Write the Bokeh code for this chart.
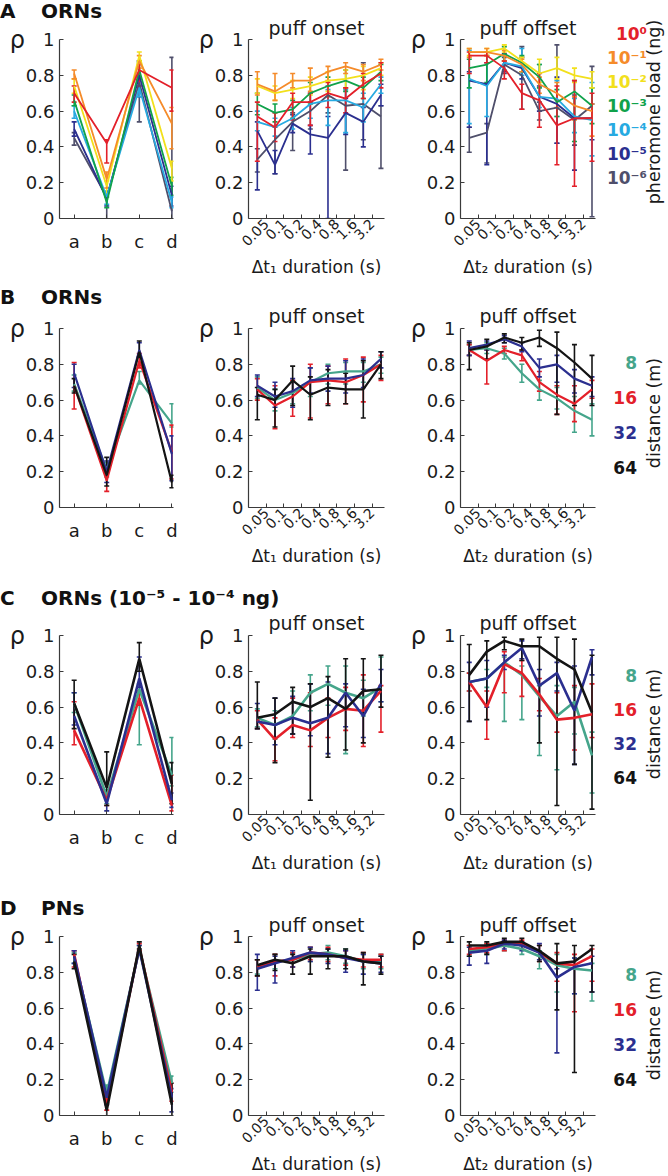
import math
from bokeh.plotting import figure
from bokeh.models import ColumnDataSource, Whisker, TeeHead, FixedTicker, Div, Range1d
from bokeh.layouts import column, row
from bokeh.embed import file_html
from bokeh.resources import INLINE

FONT = "DejaVu Sans"
INK = "#1a1a1a"
AXIS = "#3a3a3a"

# ---------------- labels / categories ----------------
CATS = ["a", "b", "c", "d"]
DUR_TICKS = ["0.05", "0.1", "0.2", "0.4", "0.8", "1.6", "3.2"]
Y_TICKS = [0, 0.2, 0.4, 0.6, 0.8, 1]
Y_LABELS = ["0", "0.2", "0.4", "0.6", "0.8", "1"]
LOADS = ["10\u2070", "10\u207b\u00b9", "10\u207b\u00b2", "10\u207b\u00b3", "10\u207b\u2074", "10\u207b\u2075", "10\u207b\u2076"]
LOAD_COLORS = ["#e3202a", "#f58b2a", "#f2e01c", "#10a24b", "#27aae1", "#2b2f8f", "#4f4f6b"]
DISTS = ["8", "16", "32", "64"]
DIST_COLORS = ["#45a58b", "#e3202a", "#2b2f8f", "#141414"]
HEADERS = [("A", "ORNs"), ("B", "ORNs"), ("C", "ORNs (10\u207b\u2075 - 10\u207b\u2074 ng)"), ("D", "PNs")]

# ---------------- row A: pheromone load (series order 10^0 ... 10^-6) ----------------
A_cat_mean = [[0.70, 0.42, 0.83, 0.73], [0.81, 0.22, 0.88, 0.53], [0.74, 0.18, 0.91, 0.28],
              [0.66, 0.09, 0.83, 0.18], [0.60, 0.12, 0.73, 0.09], [0.50, 0.11, 0.80, 0.13],
              [0.45, 0.12, 0.76, 0.04]]
A_cat_dn = [[0.05, 0.11, 0.09, 0.13], [0.03, 0.05, 0.04, 0.14], [0.04, 0.04, 0.03, 0.07],
            [0.03, 0.03, 0.04, 0.05], [0.04, 0.04, 0.05, 0.03], [0.04, 0.04, 0.12, 0.06],
            [0.04, 0.13, 0.22, 0.05]]
A_cat_up = [[0.04, 0.02, 0.03, 0.10], [0.02, 0.04, 0.03, 0.09], [0.04, 0.03, 0.02, 0.04],
            [0.03, 0.03, 0.04, 0.05], [0.03, 0.03, 0.05, 0.03], [0.04, 0.04, 0.08, 0.05],
            [0.03, 0.03, 0.12, 0.86]]

A_on_mean = [[0.57, 0.51, 0.65, 0.65, 0.70, 0.67, 0.75, 0.81],
             [0.75, 0.71, 0.77, 0.77, 0.82, 0.85, 0.82, 0.86],
             [0.74, 0.70, 0.72, 0.74, 0.77, 0.78, 0.80, 0.84],
             [0.64, 0.59, 0.61, 0.70, 0.74, 0.77, 0.73, 0.82],
             [0.54, 0.51, 0.56, 0.64, 0.66, 0.66, 0.62, 0.75],
             [0.49, 0.30, 0.53, 0.47, 0.45, 0.59, 0.54, 0.69],
             [0.33, 0.44, 0.54, 0.60, 0.69, 0.63, 0.64, 0.57]]
A_on_dn = [[0.25, 0.08, 0.10, 0.13, 0.08, 0.08, 0.08, 0.08],
           [0.06, 0.05, 0.04, 0.06, 0.05, 0.04, 0.05, 0.03],
           [0.04, 0.04, 0.05, 0.05, 0.06, 0.05, 0.08, 0.04],
           [0.06, 0.05, 0.05, 0.06, 0.06, 0.06, 0.06, 0.05],
           [0.05, 0.05, 0.06, 0.08, 0.14, 0.18, 0.08, 0.05],
           [0.33, 0.05, 0.05, 0.11, 0.45, 0.12, 0.14, 0.06],
           [0.07, 0.19, 0.16, 0.10, 0.10, 0.36, 0.20, 0.29]]
A_on_up = [[0.08, 0.08, 0.05, 0.05, 0.06, 0.06, 0.06, 0.06],
           [0.07, 0.10, 0.04, 0.07, 0.03, 0.02, 0.04, 0.03],
           [0.04, 0.04, 0.05, 0.05, 0.05, 0.05, 0.05, 0.03],
           [0.06, 0.05, 0.05, 0.06, 0.05, 0.06, 0.06, 0.04],
           [0.06, 0.05, 0.06, 0.06, 0.06, 0.06, 0.08, 0.04],
           [0.05, 0.08, 0.05, 0.05, 0.12, 0.08, 0.08, 0.06],
           [0.06, 0.07, 0.05, 0.05, 0.05, 0.10, 0.23, 0.06]]

A_off_mean = [[0.91, 0.91, 0.84, 0.70, 0.66, 0.52, 0.56, 0.56],
              [0.93, 0.93, 0.91, 0.86, 0.75, 0.70, 0.63, 0.60],
              [0.93, 0.93, 0.95, 0.88, 0.81, 0.84, 0.80, 0.78],
              [0.84, 0.86, 0.92, 0.87, 0.79, 0.65, 0.71, 0.63],
              [0.78, 0.74, 0.87, 0.85, 0.68, 0.67, 0.57, 0.55],
              [0.77, 0.75, 0.87, 0.84, 0.68, 0.64, 0.56, 0.56],
              [0.45, 0.48, 0.86, 0.80, 0.60, 0.62, 0.55, 0.63]]
A_off_dn = [[0.10, 0.04, 0.06, 0.09, 0.15, 0.22, 0.38, 0.24],
            [0.03, 0.02, 0.03, 0.04, 0.05, 0.08, 0.08, 0.14],
            [0.02, 0.02, 0.02, 0.03, 0.05, 0.06, 0.04, 0.05],
            [0.11, 0.10, 0.04, 0.05, 0.06, 0.08, 0.28, 0.10],
            [0.25, 0.17, 0.04, 0.05, 0.06, 0.10, 0.09, 0.20],
            [0.26, 0.45, 0.05, 0.06, 0.08, 0.22, 0.29, 0.12],
            [0.08, 0.17, 0.05, 0.19, 0.05, 0.20, 0.14, 0.62]]
A_off_up = [[0.02, 0.02, 0.04, 0.05, 0.15, 0.22, 0.21, 0.14],
            [0.02, 0.02, 0.03, 0.03, 0.04, 0.06, 0.05, 0.04],
            [0.02, 0.02, 0.02, 0.02, 0.08, 0.06, 0.04, 0.04],
            [0.05, 0.05, 0.04, 0.04, 0.07, 0.07, 0.06, 0.10],
            [0.16, 0.19, 0.04, 0.10, 0.18, 0.10, 0.10, 0.21],
            [0.05, 0.12, 0.05, 0.06, 0.06, 0.15, 0.12, 0.08],
            [0.06, 0.05, 0.04, 0.16, 0.05, 0.35, 0.14, 0.22]]

# ---------------- row B: distance (series order 8, 16, 32, 64 m) ----------------
B_cat_mean = [[0.69, 0.21, 0.71, 0.47], [0.68, 0.15, 0.82, 0.31], [0.75, 0.20, 0.88, 0.30], [0.68, 0.18, 0.87, 0.14]]
B_cat_dn = [[0.04, 0.04, 0.02, 0.02], [0.13, 0.06, 0.04, 0.15], [0.08, 0.06, 0.04, 0.15], [0.04, 0.06, 0.03, 0.03]]
B_cat_up = [[0.05, 0.04, 0.05, 0.11], [0.13, 0.05, 0.04, 0.15], [0.05, 0.06, 0.04, 0.10], [0.04, 0.10, 0.06, 0.04]]

B_on_mean = [[0.67, 0.60, 0.64, 0.70, 0.75, 0.76, 0.76, 0.80],
             [0.66, 0.57, 0.62, 0.70, 0.71, 0.70, 0.74, 0.80],
             [0.68, 0.62, 0.65, 0.71, 0.72, 0.72, 0.74, 0.83],
             [0.63, 0.60, 0.71, 0.63, 0.67, 0.66, 0.66, 0.80]]
B_on_dn = [[0.06, 0.06, 0.06, 0.08, 0.06, 0.07, 0.06, 0.05],
           [0.06, 0.13, 0.11, 0.20, 0.13, 0.12, 0.15, 0.09],
           [0.06, 0.06, 0.09, 0.07, 0.07, 0.08, 0.07, 0.05],
           [0.14, 0.15, 0.14, 0.14, 0.10, 0.08, 0.16, 0.08]]
B_on_up = [[0.06, 0.06, 0.06, 0.08, 0.05, 0.05, 0.05, 0.04],
           [0.06, 0.11, 0.09, 0.10, 0.08, 0.13, 0.10, 0.05],
           [0.06, 0.08, 0.07, 0.07, 0.07, 0.10, 0.09, 0.04],
           [0.04, 0.06, 0.08, 0.10, 0.10, 0.09, 0.16, 0.07]]

B_off_mean = [[0.88, 0.89, 0.86, 0.75, 0.66, 0.61, 0.54, 0.49],
              [0.88, 0.82, 0.88, 0.85, 0.70, 0.63, 0.58, 0.66],
              [0.89, 0.91, 0.94, 0.90, 0.78, 0.80, 0.72, 0.68],
              [0.88, 0.90, 0.95, 0.92, 0.95, 0.89, 0.81, 0.72]]
B_off_dn = [[0.03, 0.03, 0.03, 0.05, 0.06, 0.06, 0.12, 0.09],
            [0.03, 0.13, 0.02, 0.03, 0.05, 0.11, 0.10, 0.05],
            [0.04, 0.03, 0.02, 0.03, 0.05, 0.10, 0.08, 0.06],
            [0.11, 0.07, 0.03, 0.04, 0.05, 0.37, 0.24, 0.15]]
B_off_up = [[0.03, 0.03, 0.03, 0.05, 0.05, 0.06, 0.08, 0.09],
            [0.03, 0.06, 0.02, 0.03, 0.06, 0.05, 0.10, 0.05],
            [0.04, 0.02, 0.02, 0.02, 0.05, 0.05, 0.05, 0.05],
            [0.04, 0.04, 0.02, 0.03, 0.04, 0.09, 0.10, 0.13]]

# ---------------- row C: distance, low loads ----------------
C_cat_mean = [[0.62, 0.10, 0.70, 0.22], [0.47, 0.08, 0.65, 0.05], [0.55, 0.06, 0.76, 0.08], [0.62, 0.15, 0.87, 0.17]]
C_cat_dn = [[0.05, 0.04, 0.31, 0.06], [0.08, 0.03, 0.04, 0.03], [0.05, 0.04, 0.05, 0.04], [0.14, 0.10, 0.07, 0.11]]
C_cat_up = [[0.06, 0.04, 0.03, 0.21], [0.16, 0.03, 0.04, 0.17], [0.13, 0.04, 0.12, 0.04], [0.13, 0.20, 0.09, 0.12]]

C_on_mean = [[0.54, 0.50, 0.55, 0.68, 0.73, 0.68, 0.65, 0.71],
             [0.53, 0.42, 0.50, 0.47, 0.54, 0.59, 0.58, 0.69],
             [0.52, 0.50, 0.54, 0.51, 0.54, 0.68, 0.55, 0.73],
             [0.54, 0.56, 0.63, 0.60, 0.65, 0.59, 0.69, 0.70]]
C_on_dn = [[0.05, 0.08, 0.10, 0.10, 0.12, 0.34, 0.10, 0.08],
           [0.05, 0.12, 0.07, 0.09, 0.11, 0.12, 0.20, 0.23],
           [0.04, 0.11, 0.09, 0.07, 0.20, 0.19, 0.12, 0.10],
           [0.06, 0.27, 0.18, 0.52, 0.33, 0.23, 0.29, 0.10]]
C_on_up = [[0.05, 0.08, 0.14, 0.10, 0.10, 0.15, 0.10, 0.17],
           [0.05, 0.12, 0.15, 0.21, 0.11, 0.12, 0.20, 0.03],
           [0.10, 0.15, 0.12, 0.22, 0.20, 0.05, 0.15, 0.08],
           [0.20, 0.09, 0.08, 0.13, 0.12, 0.28, 0.18, 0.19]]

C_off_mean = [[0.74, 0.76, 0.85, 0.78, 0.66, 0.55, 0.63, 0.33],
              [0.74, 0.60, 0.84, 0.79, 0.67, 0.53, 0.54, 0.56],
              [0.74, 0.76, 0.85, 0.93, 0.72, 0.79, 0.58, 0.88],
              [0.78, 0.91, 0.97, 0.94, 0.94, 0.87, 0.81, 0.57]]
C_off_dn = [[0.05, 0.05, 0.33, 0.25, 0.33, 0.30, 0.18, 0.21],
            [0.05, 0.18, 0.16, 0.13, 0.09, 0.07, 0.18, 0.13],
            [0.22, 0.16, 0.04, 0.06, 0.17, 0.10, 0.30, 0.10],
            [0.26, 0.38, 0.05, 0.08, 0.54, 0.82, 0.53, 0.54]]
C_off_up = [[0.05, 0.05, 0.03, 0.05, 0.06, 0.17, 0.08, 0.13],
            [0.05, 0.09, 0.07, 0.07, 0.09, 0.15, 0.18, 0.17],
            [0.11, 0.10, 0.04, 0.04, 0.09, 0.06, 0.25, 0.04],
            [0.17, 0.06, 0.02, 0.04, 0.05, 0.12, 0.17, 0.32]]

# ---------------- row D: PNs ----------------
D_cat_mean = [[0.88, 0.12, 0.93, 0.18], [0.90, 0.06, 0.94, 0.13], [0.89, 0.10, 0.93, 0.10], [0.86, 0.03, 0.95, 0.06]]
D_cat_dn = [[0.03, 0.03, 0.02, 0.05], [0.07, 0.03, 0.02, 0.05], [0.04, 0.04, 0.02, 0.08], [0.04, 0.10, 0.02, 0.08]]
D_cat_up = [[0.03, 0.05, 0.02, 0.04], [0.02, 0.03, 0.02, 0.05], [0.03, 0.04, 0.02, 0.05], [0.04, 0.04, 0.02, 0.12]]

D_on_mean = [[0.83, 0.86, 0.87, 0.90, 0.91, 0.89, 0.86, 0.86],
             [0.83, 0.86, 0.87, 0.91, 0.90, 0.88, 0.87, 0.87],
             [0.82, 0.85, 0.88, 0.91, 0.90, 0.88, 0.86, 0.85],
             [0.84, 0.87, 0.85, 0.89, 0.89, 0.89, 0.86, 0.85]]
D_on_dn = [[0.04, 0.04, 0.04, 0.04, 0.04, 0.04, 0.04, 0.04],
           [0.05, 0.08, 0.04, 0.04, 0.04, 0.04, 0.04, 0.04],
           [0.12, 0.11, 0.05, 0.05, 0.05, 0.08, 0.07, 0.05],
           [0.06, 0.06, 0.06, 0.10, 0.07, 0.07, 0.13, 0.06]]
D_on_up = [[0.04, 0.04, 0.04, 0.04, 0.04, 0.04, 0.04, 0.04],
           [0.04, 0.04, 0.04, 0.03, 0.04, 0.04, 0.04, 0.03],
           [0.08, 0.04, 0.04, 0.03, 0.03, 0.04, 0.04, 0.04],
           [0.03, 0.03, 0.05, 0.04, 0.04, 0.04, 0.05, 0.04]]

D_off_mean = [[0.92, 0.93, 0.95, 0.93, 0.89, 0.84, 0.82, 0.81],
              [0.93, 0.94, 0.96, 0.96, 0.91, 0.85, 0.84, 0.89],
              [0.91, 0.92, 0.96, 0.95, 0.91, 0.77, 0.83, 0.85],
              [0.95, 0.95, 0.97, 0.97, 0.92, 0.85, 0.86, 0.93]]
D_off_dn = [[0.03, 0.03, 0.03, 0.03, 0.07, 0.15, 0.14, 0.17],
            [0.03, 0.03, 0.04, 0.03, 0.05, 0.10, 0.26, 0.14],
            [0.07, 0.07, 0.03, 0.03, 0.04, 0.42, 0.15, 0.16],
            [0.06, 0.05, 0.02, 0.02, 0.06, 0.26, 0.62, 0.24]]
D_off_up = [[0.03, 0.03, 0.02, 0.02, 0.03, 0.06, 0.06, 0.04],
            [0.02, 0.02, 0.02, 0.02, 0.04, 0.06, 0.06, 0.04],
            [0.03, 0.03, 0.02, 0.02, 0.05, 0.05, 0.05, 0.04],
            [0.02, 0.02, 0.02, 0.02, 0.03, 0.11, 0.09, 0.02]]

# ---------------- layout constants ----------------
FH = 179
ROWCFG = [
    dict(div_h=14, top=24, bot=68, tstand=1, lg_first=-4, lg_step=24, lg_mid=74, lw=1.8, lg_right=48),
    dict(div_h=14, top=27, bot=80, tstand=4, lg_first=36, lg_step=35, lg_mid=86, lw=2.2, lg_right=38),
    dict(div_h=14, top=34, bot=83, tstand=3, lg_first=41, lg_step=34, lg_mid=89, lw=2.6, lg_right=38),
    dict(div_h=14, top=24, bot=55, tstand=1, lg_first=40, lg_step=35, lg_mid=90, lw=2.6, lg_right=38),
]
LG_W = 66


def style(p):
    p.grid.visible = False
    p.outline_line_color = None
    p.border_fill_color = None
    for ax in p.axis:
        ax.axis_line_color = AXIS
        ax.axis_line_width = 1.2
        ax.major_tick_line_color = AXIS
        ax.major_tick_in = 4
        ax.major_tick_out = 0
        ax.minor_tick_line_color = None
        ax.major_label_text_font = FONT
        ax.major_label_text_color = INK
        ax.axis_label_text_font = FONT
        ax.axis_label_text_color = INK
        ax.axis_label_text_font_style = "normal"
    p.yaxis.ticker = FixedTicker(ticks=Y_TICKS)
    p.yaxis.major_label_overrides = {t: l for t, l in zip(Y_TICKS, Y_LABELS)}
    p.yaxis.major_label_text_font_size = "18px"
    p.yaxis.major_label_standoff = 5
    yax = p.yaxis[0]
    yax.axis_label = "\u03c1"
    yax.axis_label_orientation = "horizontal"
    yax.axis_label_text_font_size = "24px"
    yax.axis_label_standoff = -2
    try:
        yax.axis_label_align = "end"
    except Exception:
        pass


def panel(kind, means, dns, ups, colors, cfg, order, title=None, xlabel=None, fw=136, left=55, right=21):
    if kind == "cat":
        xs = [i + 1 for i in range(len(CATS))]
        xr = Range1d(0.55, 4.05)
    else:
        xs = list(range(len(DUR_TICKS) + 1))
        xr = Range1d(-0.5, 7.2)
    p = figure(frame_width=fw, frame_height=FH, x_range=xr, y_range=Range1d(0, 1),
               min_border_left=left, min_border_right=right,
               min_border_top=cfg["top"], min_border_bottom=cfg["bot"],
               toolbar_location=None, output_backend="svg", align="start")
    style(p)
    if title:
        p.title.text = title
        p.title.align = "center"
        p.title.text_font = FONT
        p.title.text_font_size = "19px"
        p.title.text_font_style = "normal"
        p.title.text_color = INK
        p.title.standoff = cfg["tstand"]
    if kind == "cat":
        p.xaxis.ticker = FixedTicker(ticks=xs)
        p.xaxis.major_label_overrides = {x: c for x, c in zip(xs, CATS)}
        p.xaxis.major_label_text_font_size = "18px"
        p.xaxis.major_label_standoff = 12
    else:
        tk = [i + 0.5 for i in range(len(DUR_TICKS))]
        p.xaxis.ticker = FixedTicker(ticks=tk)
        p.xaxis.major_label_overrides = {t: l for t, l in zip(tk, DUR_TICKS)}
        p.xaxis.major_label_orientation = math.pi / 4
        p.xaxis.major_label_text_font_size = "14px"
        p.xaxis.major_label_standoff = 3
        p.xaxis.axis_label = xlabel
        p.xaxis.axis_label_text_font_size = "17px"
        p.xaxis.axis_label_standoff = 3
    for i in order:
        m = means[i]
        src = ColumnDataSource(dict(x=xs, y=m,
                                    lo=[a - b for a, b in zip(m, dns[i])],
                                    hi=[a + b for a, b in zip(m, ups[i])]))
        c = colors[i]
        w = Whisker(source=src, base="x", lower="lo", upper="hi", line_color=c, line_width=1.6,
                    upper_head=TeeHead(size=5, line_color=c, line_width=1.6),
                    lower_head=TeeHead(size=5, line_color=c, line_width=1.6))
        p.add_layout(w)
        p.line("x", "y", source=src, line_color=c, line_width=cfg["lw"])
    return p


def legend(labels, colors, vlabel, cfg):
    total = cfg["top"] + FH + cfg["bot"]
    parts = ['<div style="position:relative;width:%dpx;height:%dpx;overflow:hidden;'
             'font-family:\'DejaVu Sans\';margin:0;padding:0">' % (LG_W, total)]
    for k, (t, c) in enumerate(zip(labels, colors)):
        y = cfg["top"] + cfg["lg_first"] + k * cfg["lg_step"]
        parts.append('<div style="position:absolute;right:%dpx;top:%dpx;height:20px;margin-top:-10px;'
                     'line-height:20px;font-size:17px;font-weight:bold;color:%s;white-space:nowrap">%s</div>'
                     % (LG_W - cfg["lg_right"], y, c, t))
    parts.append('<div style="position:absolute;left:45px;top:%dpx;width:20px;height:0;">'
                 '<div style="position:absolute;left:0;top:0;width:260px;height:20px;margin-left:-120px;'
                 'margin-top:-10px;line-height:20px;text-align:center;transform:rotate(-90deg);'
                 'font-size:17.5px;color:%s;white-space:nowrap">%s</div></div>'
                 % (cfg["top"] + cfg["lg_mid"], INK, vlabel))
    parts.append('</div>')
    return Div(text="".join(parts), width=LG_W, height=total, margin=(0, 0, 0, 0), align="start")


def header(letter, name, h):
    html = ('<div style="position:relative;top:4px;font-family:\'DejaVu Sans\';font-weight:bold;'
            'font-size:20px;line-height:%dpx;white-space:nowrap;color:#111;margin:0;padding:0">'
            '<span style="display:inline-block;width:41px">%s</span>%s</div>' % (h, letter, name))
    return Div(text=html, width=660, height=h, margin=(0, 0, 0, 0))


DATA = [
    (A_cat_mean, A_cat_dn, A_cat_up, A_on_mean, A_on_dn, A_on_up, A_off_mean, A_off_dn, A_off_up),
    (B_cat_mean, B_cat_dn, B_cat_up, B_on_mean, B_on_dn, B_on_up, B_off_mean, B_off_dn, B_off_up),
    (C_cat_mean, C_cat_dn, C_cat_up, C_on_mean, C_on_dn, C_on_up, C_off_mean, C_off_dn, C_off_up),
    (D_cat_mean, D_cat_dn, D_cat_up, D_on_mean, D_on_dn, D_on_up, D_off_mean, D_off_dn, D_off_up),
]

children = []
for r, (cfg, d, (letter, name)) in enumerate(zip(ROWCFG, DATA, HEADERS)):
    if r == 0:
        colors, labels, vlabel = LOAD_COLORS, LOADS, "pheromone load (ng)"
        order = list(range(len(LOADS)))[::-1]
    else:
        colors, labels, vlabel = DIST_COLORS, DISTS, "distance (m)"
        order = list(range(len(DISTS)))
    p1 = panel("cat", d[0], d[1], d[2], colors, cfg, order, fw=114, left=59, right=20)
    p2 = panel("dur", d[3], d[4], d[5], colors, cfg, order, title="puff onset",
               xlabel="\u0394t\u2081 duration (s)", fw=136, left=55, right=21)
    p3 = panel("dur", d[6], d[7], d[8], colors, cfg, order, title="puff offset",
               xlabel="\u0394t\u2082 duration (s)", fw=135, left=55, right=4)
    lg = legend(labels, colors, vlabel, cfg)
    children.append(header(letter, name, cfg["div_h"]))
    children.append(row(p1, p2, p3, lg, spacing=0, align="start"))

layout = column(*children, spacing=0)
open("out.html", "w").write(file_html(layout, INLINE))
